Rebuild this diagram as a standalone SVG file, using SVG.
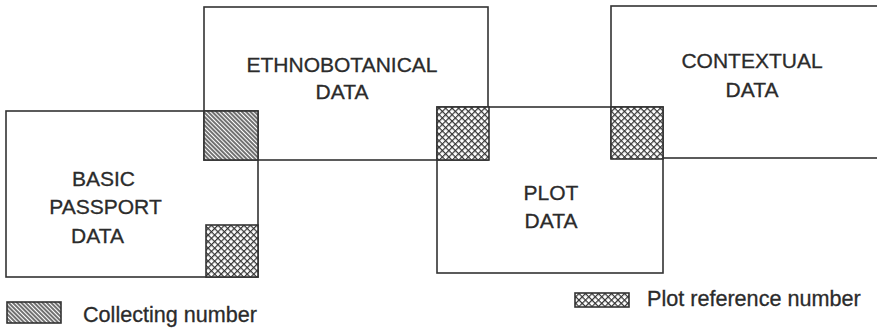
<svg xmlns="http://www.w3.org/2000/svg" width="877" height="329" viewBox="0 0 877 329">
<defs>
<pattern id="hatch" width="3" height="3" patternUnits="userSpaceOnUse" patternTransform="rotate(45)">
<rect width="3" height="3" fill="#fff"/>
<line x1="0" y1="1" x2="3" y2="1" stroke="#333" stroke-width="1.4"/>
</pattern>
<pattern id="cross" width="4.6" height="4.6" patternUnits="userSpaceOnUse" patternTransform="rotate(45)">
<rect width="4.6" height="4.6" fill="#fff"/>
<line x1="0" y1="0.6" x2="4.6" y2="0.6" stroke="#333" stroke-width="1.2"/>
<line x1="0.6" y1="0" x2="0.6" y2="4.6" stroke="#333" stroke-width="1.2"/>
</pattern>
<style>
.box{fill:none;stroke:#333;stroke-width:1.6}
.sq{stroke:#333;stroke-width:1.6}
.lbl{font-family:"Liberation Sans",Arial,sans-serif;font-size:21px;fill:#2b2b2b;stroke:#2b2b2b;stroke-width:0.3}
.leg{font-size:21.6px}
</style>
</defs>
<g id="connectors"></g>
<g id="ethnobotanical">
<rect class="box" x="204" y="7" width="284" height="153"/>
<text class="lbl" x="342" y="72" text-anchor="middle">ETHNOBOTANICAL</text>
<text class="lbl" x="342" y="99" text-anchor="middle">DATA</text>
</g>
<g id="basic">
<rect class="box" x="6" y="111" width="252" height="166"/>
<text class="lbl" x="103.5" y="186" text-anchor="middle">BASIC</text>
<text class="lbl" x="105.5" y="214" text-anchor="middle">PASSPORT</text>
<text class="lbl" x="97.5" y="243" text-anchor="middle">DATA</text>
</g>
<g id="plot">
<rect class="box" x="437" y="107" width="226" height="166"/>
<text class="lbl" x="551" y="200" text-anchor="middle">PLOT</text>
<text class="lbl" x="551" y="228" text-anchor="middle">DATA</text>
</g>
<g id="contextual">
<rect class="box" x="611" y="6" width="275" height="152"/>
<text class="lbl" x="752" y="68" text-anchor="middle">CONTEXTUAL</text>
<text class="lbl" x="752" y="97" text-anchor="middle">DATA</text>
</g>
<g id="collecting-number">
<rect class="sq" x="204" y="111" width="54" height="49" fill="url(#hatch)"/>
</g>
<g id="plot-reference-numbers">
<rect class="sq" x="206" y="225" width="52" height="52" fill="url(#cross)"/>
<rect class="sq" x="437" y="107" width="52" height="53" fill="url(#cross)"/>
<rect class="sq" x="611" y="107" width="52" height="52" fill="url(#cross)"/>
</g>
<g id="legend">
<rect class="sq" x="7" y="302" width="54" height="21" fill="url(#hatch)" stroke-width="1.2"/>
<text class="lbl leg" x="83" y="322">Collecting number</text>
<rect class="sq" x="575" y="293" width="54" height="14" fill="url(#cross)" stroke-width="1.2"/>
<text class="lbl leg" x="647" y="306">Plot reference number</text>
</g>
</svg>
